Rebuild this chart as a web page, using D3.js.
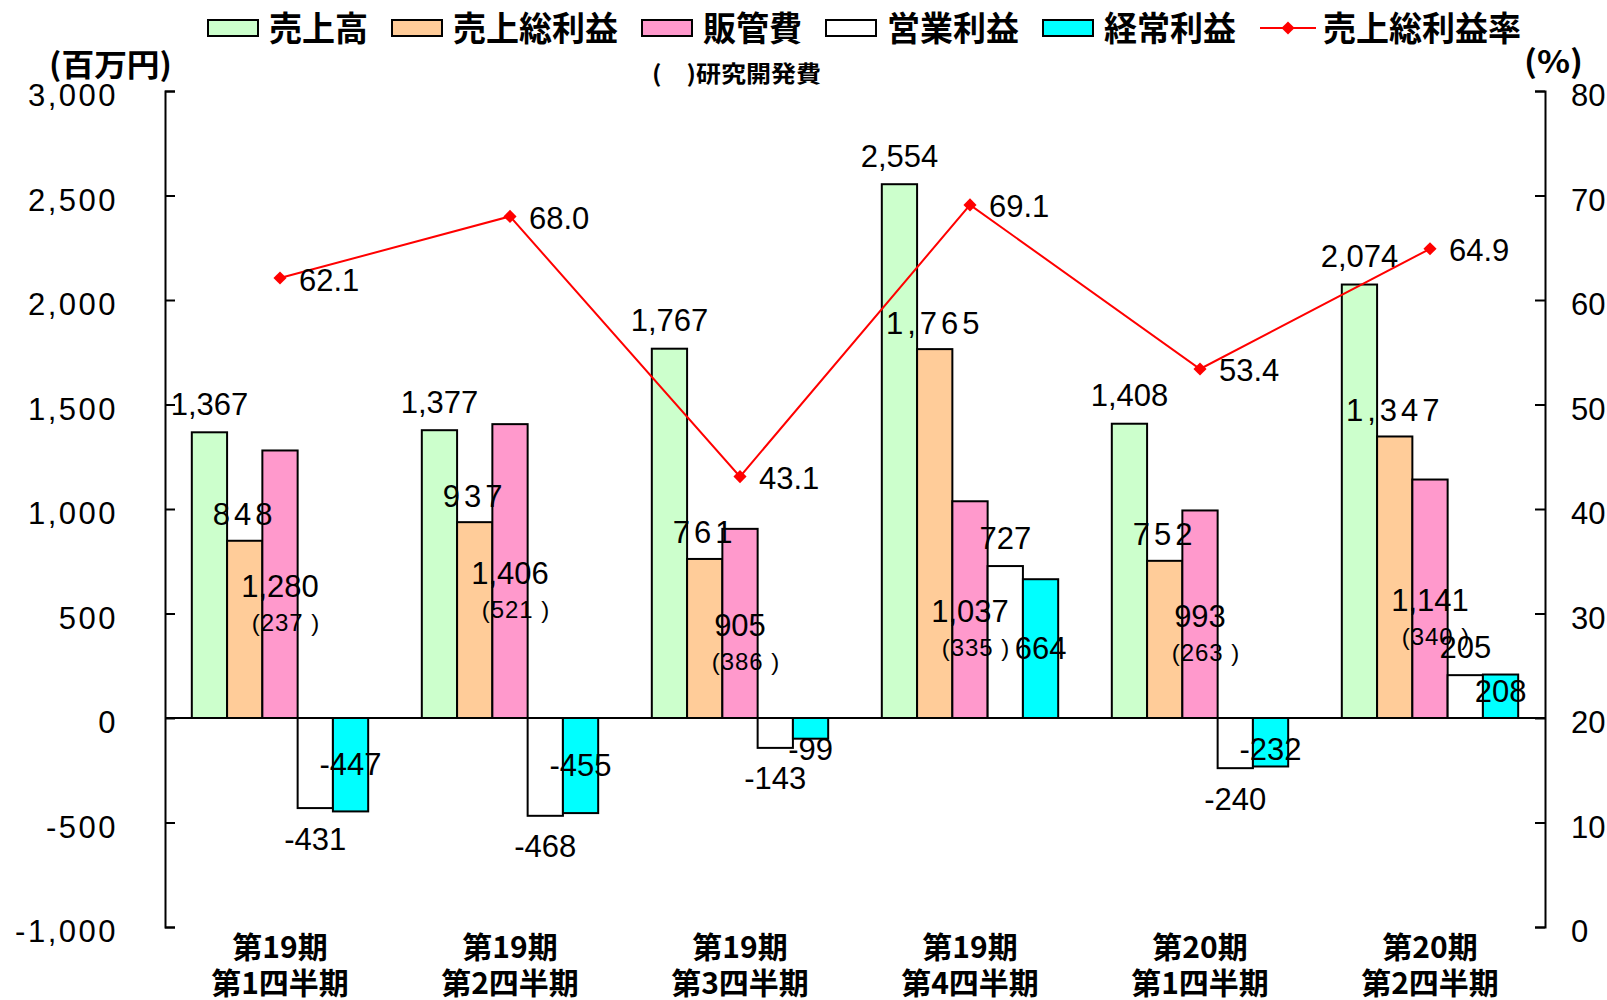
<!DOCTYPE html>
<html>
<head>
<meta charset="utf-8">
<script src="https://cdn.jsdelivr.net/npm/d3@7"></script>
<style>
  html, body { margin: 0; padding: 0; background: #fff; }
  svg { display: block; }
  .cjk { font-family: "Noto Sans CJK JP", "Noto Sans", sans-serif; font-weight: 700; }
  .num { font-family: "Liberation Sans", Arial, sans-serif; }
</style>
</head>
<body>
<svg id="chart" width="1607" height="1000"></svg>
<script>
// Quarterly results (百万円) and gross margin (%)
const periods   = ["第19期", "第19期", "第19期", "第19期", "第20期", "第20期"];
const quarters  = ["第1四半期", "第2四半期", "第3四半期", "第4四半期", "第1四半期", "第2四半期"];
const sales     = [1367, 1377, 1767, 2554, 1408, 2074];   // 売上高
const gross     = [848, 937, 761, 1765, 752, 1347];       // 売上総利益
const sga       = [1280, 1406, 905, 1037, 993, 1141];     // 販管費
const rnd       = [237, 521, 386, 335, 263, 340];         // 研究開発費 (販管費の内数)
const operating = [-431, -468, -143, 727, -240, 205];     // 営業利益
const ordinary  = [-447, -455, -99, 664, -232, 208];      // 経常利益
const margin    = [62.1, 68.0, 43.1, 69.1, 53.4, 64.9];   // 売上総利益率
const leftTicks  = [-1000, -500, 0, 500, 1000, 1500, 2000, 2500, 3000];
const rightTicks = [0, 10, 20, 30, 40, 50, 60, 70, 80];

const seriesNames  = ["売上高", "売上総利益", "販管費", "営業利益", "経常利益"];
const seriesValues = [sales, gross, sga, operating, ordinary];
const seriesColors = ["#CCFFCC", "#FFCC99", "#FF99CC", "#FFFFFF", "#00FFFF"];
const lineName  = "売上総利益率";
const lineColor = "#FF0000";

const svg = d3.select("#chart");
const plot = { left: 165, right: 1545, top: 91, bottom: 927 };

const idx = d3.range(sales.length);
const x0 = d3.scaleBand().domain(idx).range([plot.left, plot.right]).padding(0);
const x1 = d3.scaleBand().domain(d3.range(seriesNames.length))
  .range([0, x0.bandwidth()]).paddingInner(0).paddingOuter(0.76);
const y  = d3.scaleLinear().domain([-1000, 3000]).range([plot.bottom, plot.top]);
const y2 = d3.scaleLinear().domain([0, 80]).range([plot.bottom, plot.top]);

// Plain hyphen for negatives
const fmt = d3.formatLocale({
  decimal: ".", thousands: ",", grouping: [3], currency: ["", ""], minus: "-"
}).format(",");

// Bars
const groups = svg.append("g").selectAll("g").data(idx).join("g")
  .attr("transform", i => `translate(${x0(i)},0)`);

groups.selectAll("rect")
  .data(i => seriesValues.map((vals, s) => ({ s, v: vals[i] })))
  .join("rect")
  .attr("x", d => x1(d.s))
  .attr("width", x1.bandwidth())
  .attr("y", d => y(Math.max(0, d.v)))
  .attr("height", d => Math.abs(y(d.v) - y(0)))
  .attr("fill", d => seriesColors[d.s])
  .attr("stroke", "#000")
  .attr("stroke-width", 2);

// Zero line
svg.append("line")
  .attr("x1", plot.left).attr("x2", plot.right)
  .attr("y1", y(0)).attr("y2", y(0))
  .attr("stroke", "#000").attr("stroke-width", 2);

// Axes
const leftAxis = svg.append("g").attr("transform", `translate(${plot.left},0)`)
  .call(d3.axisLeft(y).tickValues(leftTicks).tickFormat(fmt)
    .tickSizeInner(-10).tickSizeOuter(-10).tickPadding(47));
const rightAxis = svg.append("g").attr("transform", `translate(${plot.right},0)`)
  .call(d3.axisRight(y2).tickValues(rightTicks)
    .tickSizeInner(-10).tickSizeOuter(-10).tickPadding(26));
[leftAxis, rightAxis].forEach(a => {
  a.selectAll("path, line").attr("stroke", "#000").attr("stroke-width", 2);
  a.selectAll("text").attr("class", "num").attr("font-size", 31).attr("fill", "#000")
    .attr("dy", "0.48em");
});
leftAxis.selectAll("text").attr("letter-spacing", 2.5);

// Category labels
const cat = svg.append("g").selectAll("g").data(idx).join("g")
  .attr("transform", i => `translate(${x0(i) + x0.bandwidth() / 2},0)`);
cat.append("text").attr("class", "cjk").attr("text-anchor", "middle")
  .attr("y", 958).attr("font-size", 30).text(i => periods[i]);
cat.append("text").attr("class", "cjk").attr("text-anchor", "middle")
  .attr("y", 994).attr("font-size", 30).text(i => quarters[i]);

// Data labels
const lbl = svg.append("g").attr("class", "num").attr("font-size", 31).attr("fill", "#000")
  .attr("text-anchor", "middle").attr("dominant-baseline", "central");
const cx = (i, s) => x0(i) + x1(s) + x1.bandwidth() / 2;

idx.forEach(i => {
  // 売上高: above bar
  lbl.append("text").attr("x", cx(i, 0)).attr("y", y(sales[i]) - 28).text(fmt(sales[i]));
  // 売上総利益: above bar, spaced digits
  lbl.append("text").attr("x", cx(i, 1)).attr("y", y(gross[i]) - 26)
    .attr("letter-spacing", 4).text(fmt(gross[i]));
  // 販管費 with 研究開発費 in parentheses: centred in bar
  const mid = (y(sga[i]) + y(0)) / 2;
  lbl.append("text").attr("x", cx(i, 2)).attr("y", mid + 2).text(fmt(sga[i]));
  lbl.append("text").attr("x", cx(i, 2) + 6).attr("y", mid + 38)
    .attr("font-size", 24).attr("letter-spacing", 1).text(`(${rnd[i]} )`);
  // 営業利益: outside end
  const ov = operating[i];
  lbl.append("text").attr("x", cx(i, 3))
    .attr("y", ov >= 0 ? y(ov) - 28 : y(ov) + 31).text(fmt(ov));
  // 経常利益: centred, kept clear of the zero line
  const rv = ordinary[i];
  const rm = (y(rv) + y(0)) / 2;
  lbl.append("text").attr("x", cx(i, 4))
    .attr("y", rv >= 0 ? Math.min(rm, y(0) - 27) : Math.max(rm, y(0) + 31)).text(fmt(rv));
});

// Gross margin line
const lx = i => x0(i) + x0.bandwidth() / 2;
svg.append("path").datum(idx)
  .attr("fill", "none").attr("stroke", lineColor).attr("stroke-width", 2)
  .attr("d", d3.line().x(i => lx(i)).y(i => y2(margin[i])));
const diamond = d3.symbol().type(d3.symbolDiamond2).size(110);
svg.append("g").selectAll("path").data(idx).join("path")
  .attr("transform", i => `translate(${lx(i)},${y2(margin[i])})`)
  .attr("d", diamond).attr("fill", lineColor);
svg.append("g").attr("class", "num").attr("font-size", 31)
  .selectAll("text").data(idx).join("text")
  .attr("x", i => lx(i) + 19).attr("y", i => y2(margin[i]) + 2)
  .attr("dominant-baseline", "central")
  .text(i => margin[i].toFixed(1));

// Legend
const legend = svg.append("g").attr("transform", "translate(0,28)");
let lxPos = 208;
seriesNames.forEach((name, s) => {
  legend.append("rect").attr("x", lxPos).attr("y", -8).attr("width", 50).attr("height", 16)
    .attr("fill", seriesColors[s]).attr("stroke", "#000").attr("stroke-width", 2);
  lxPos += 61;
  const w = name.length * 33;
  legend.append("text").attr("class", "cjk").attr("x", lxPos).attr("y", -2).attr("font-size", 34)
    .attr("dominant-baseline", "central").attr("textLength", w)
    .attr("lengthAdjust", "spacingAndGlyphs").text(name);
  lxPos += w + 24;
});
legend.append("line").attr("x1", lxPos).attr("x2", lxPos + 56)
  .attr("stroke", lineColor).attr("stroke-width", 2);
legend.append("path").attr("transform", `translate(${lxPos + 28},0)`)
  .attr("d", diamond).attr("fill", lineColor);
lxPos += 63;
legend.append("text").attr("class", "cjk").attr("x", lxPos).attr("y", -2).attr("font-size", 34)
  .attr("dominant-baseline", "central").attr("textLength", lineName.length * 33)
  .attr("lengthAdjust", "spacingAndGlyphs").text(lineName);

// Units and note
svg.append("text").attr("class", "cjk").attr("x", 49).attr("y", 62)
  .attr("font-size", 31).attr("dominant-baseline", "central")
  .attr("textLength", 123).attr("lengthAdjust", "spacingAndGlyphs").text("(百万円)");
svg.append("text").attr("class", "cjk").attr("x", 1524).attr("y", 59)
  .attr("font-size", 31).attr("dominant-baseline", "central")
  .attr("textLength", 59).attr("lengthAdjust", "spacingAndGlyphs").text("(%)");
svg.append("text").attr("class", "cjk").attr("x", 652).attr("y", 72)
  .attr("font-size", 23).attr("dominant-baseline", "central")
  .attr("textLength", 169).attr("lengthAdjust", "spacingAndGlyphs").text("(　)研究開発費");
</script>
</body>
</html>
